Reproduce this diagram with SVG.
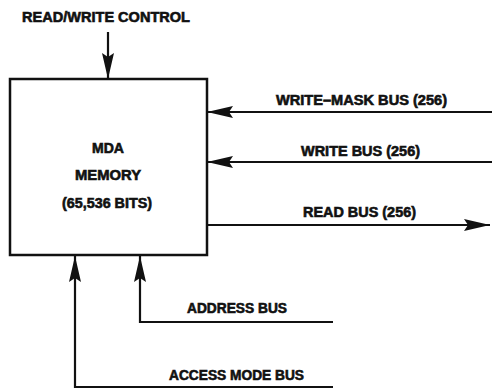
<svg xmlns="http://www.w3.org/2000/svg" width="492" height="390" viewBox="0 0 492 390">
  <style>
    .lbl { font-family: "Liberation Sans", Arial, sans-serif; font-weight: bold; font-size: 14px; fill: #111; stroke: #111; stroke-width: 0.6; }
    .box { fill: #fff; stroke: #111; stroke-width: 2.5; }
    .wire { fill: none; stroke: #111; stroke-width: 2.2; }
  </style>
  <defs>
    <marker id="head" viewBox="0 0 26 12" refX="26" refY="6" markerWidth="26" markerHeight="12" markerUnits="userSpaceOnUse" orient="auto">
      <path d="M0,0 L26,6 L0,12 L4,6 Z" fill="#111"/>
    </marker>
  </defs>
  <rect width="492" height="390" fill="#fff"/>

  <!-- memory block -->
  <g id="memory">
    <rect class="box" x="10" y="79" width="197" height="176"/>
    <text class="lbl" x="108" y="153" text-anchor="middle" textLength="32" lengthAdjust="spacingAndGlyphs">MDA</text>
    <text class="lbl" x="108" y="180" text-anchor="middle" textLength="66" lengthAdjust="spacingAndGlyphs">MEMORY</text>
    <text class="lbl" x="107" y="208" text-anchor="middle" textLength="90" lengthAdjust="spacingAndGlyphs">(65,536 BITS)</text>
  </g>

  <!-- signal labels -->
  <g id="rw-control">
    <text class="lbl" x="22" y="22" textLength="168" lengthAdjust="spacingAndGlyphs">READ/WRITE CONTROL</text>
  </g>
  <g id="write-mask-bus">
    <text class="lbl" x="276" y="105" textLength="171" lengthAdjust="spacingAndGlyphs">WRITE–MASK BUS (256)</text>
  </g>
  <g id="write-bus">
    <text class="lbl" x="301" y="156" textLength="119" lengthAdjust="spacingAndGlyphs">WRITE BUS (256)</text>
  </g>
  <g id="read-bus">
    <text class="lbl" x="303" y="217" textLength="113" lengthAdjust="spacingAndGlyphs">READ BUS (256)</text>
  </g>
  <g id="address-bus">
    <text class="lbl" x="187" y="313" textLength="100" lengthAdjust="spacingAndGlyphs">ADDRESS BUS</text>
  </g>
  <g id="access-mode-bus">
    <text class="lbl" x="169" y="380" textLength="135" lengthAdjust="spacingAndGlyphs">ACCESS MODE BUS</text>
  </g>

  <!-- connectors -->
  <g id="connectors">
    <path class="wire" d="M108,32 V79" marker-end="url(#head)"/>
    <path class="wire" d="M492,112 H207" marker-end="url(#head)"/>
    <path class="wire" d="M492,162 H207" marker-end="url(#head)"/>
    <path class="wire" d="M207,225 H490" marker-end="url(#head)"/>
    <path class="wire" d="M333,322 H140 V256" marker-end="url(#head)"/>
    <path class="wire" d="M333,387 H75 V256" marker-end="url(#head)"/>
  </g>
</svg>
